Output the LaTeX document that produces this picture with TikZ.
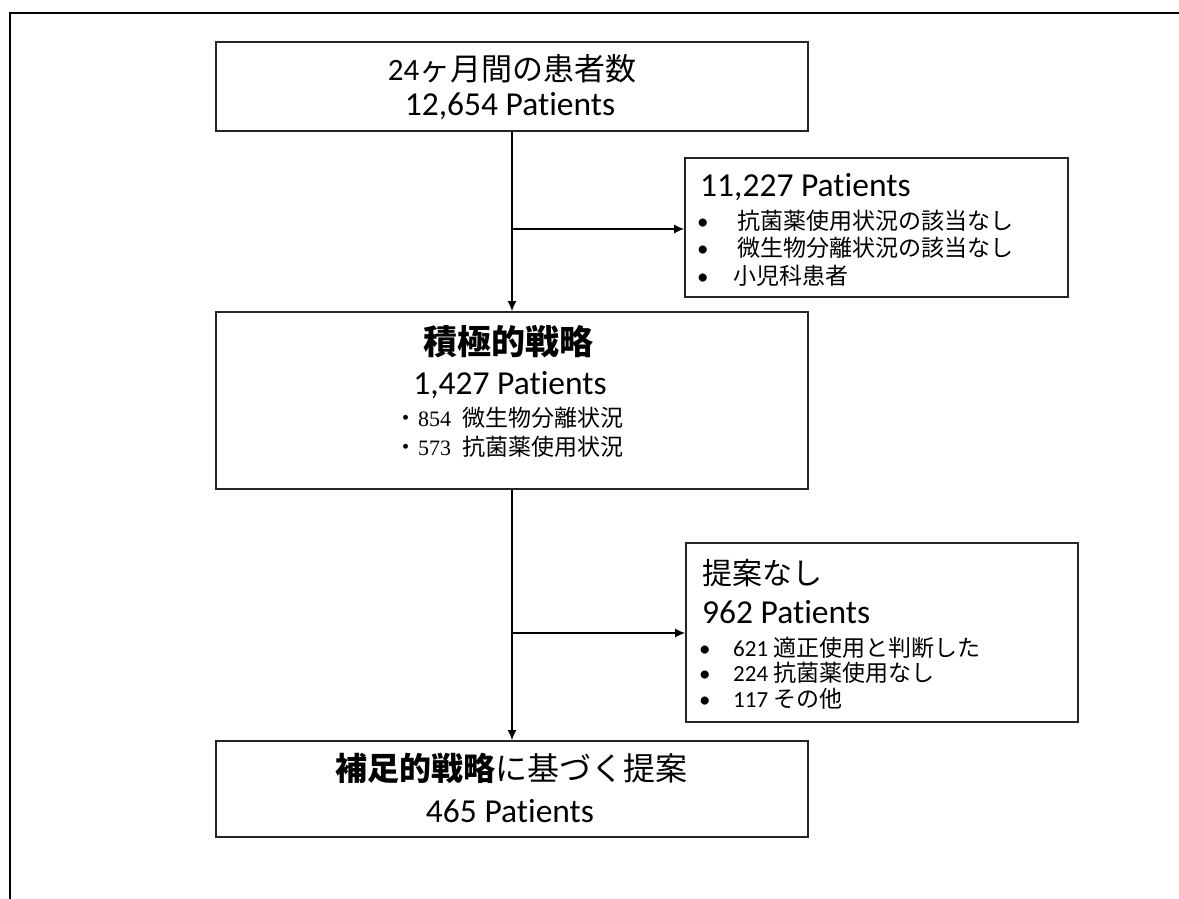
\documentclass[tikz,border=0pt]{standalone}
\usepackage{fontspec}
\setmainfont{Carlito}[Ligatures=CommonOff]
\newfontfamily\jp{Noto Sans CJK JP}
\newfontfamily\tms{Liberation Serif}
\usetikzlibrary{arrows.meta}
\newcommand{\fs}[1]{\fontsize{#1}{#1}\selectfont}
\begin{document}
\begin{tikzpicture}[x=1pt,y=-1pt,
  flowbox/.style={draw=black!85, line width=1.6pt, inner sep=0pt},
  ctxt/.style={inner sep=0pt, anchor=base},
  ltxt/.style={inner sep=0pt, anchor=base west},
  pat/.style={font=\fs{33.5}},
  item/.style={font=\fs{23}},
  flow/.style={line width=1.5pt, -{Latex[length=10pt,width=9pt]}}]
\useasboundingbox (0,0) rectangle (1179,899);

% outer frame (top and left edges only)
\draw[line width=2.2pt] (1179,13) -- (10,13) -- (10,899);

% boxes
\node[flowbox, minimum width=592pt, minimum height=89pt]  (total) at (512,86.5) {};
\node[flowbox, minimum width=383pt, minimum height=139pt] (excl)  at (876.5,227.5) {};
\node[flowbox, minimum width=592pt, minimum height=177pt] (strat) at (512,400.5) {};
\node[flowbox, minimum width=392pt, minimum height=179pt] (nosug) at (882,632.5) {};
\node[flowbox, minimum width=592pt, minimum height=96pt]  (sug)   at (512,789) {};

% box texts
\node[ctxt, font=\fs{31}] (totalA) at (512,81) {24{\jp ヶ月間の患者数}};
\node[ctxt, pat] (totalB) at (510,115) {12,654 Patients};

\node[ltxt, pat] (exclA) at (700,196) {11,227 Patients};
\node[ltxt, item] (exclB) at (697,229) {\makebox[40pt][l]{•}{\jp 抗菌薬使用状況の該当なし}};
\node[ltxt, item] (exclC) at (697,256) {\makebox[40pt][l]{•}{\jp 微生物分離状況の該当なし}};
\node[ltxt, item] (exclD) at (697,284) {\makebox[36pt][l]{•}{\jp 小児科患者}};

\node[ctxt, font=\fs{34}] (stratA) at (508,354) {\jp\bfseries 積極的戦略};
\node[ctxt, pat] (stratB) at (510,394) {1,427 Patients};
\node[ltxt, item] (stratC) at (394,426) {\makebox[24pt][l]{\jp ・}\makebox[44pt][l]{\tms\fs{22}854}{\jp 微生物分離状況}};
\node[ltxt, item] (stratD) at (394,455) {\makebox[24pt][l]{\jp ・}\makebox[44pt][l]{\tms\fs{22}573}{\jp 抗菌薬使用状況}};

\node[ltxt, font=\fs{30}] (nosugA) at (702,584) {\jp 提案なし};
\node[ltxt, pat] (nosugB) at (702,623) {962 Patients};
\node[ltxt, item] (nosugC) at (699,656) {\makebox[34pt][l]{•}\makebox[40pt][l]{621}{\jp 適正使用と判断した}};
\node[ltxt, item] (nosugD) at (699,681) {\makebox[34pt][l]{•}\makebox[40pt][l]{224}{\jp 抗菌薬使用なし}};
\node[ltxt, item] (nosugE) at (699,707) {\makebox[34pt][l]{•}\makebox[40pt][l]{117}{\jp その他}};

\node[ctxt, font=\fs{32}] (sugA) at (511,780) {{\jp\bfseries 補足的戦略}{\jp に基づく提案}};
\node[ctxt, pat] (sugB) at (510,822) {465 Patients};

% connectors
\draw[flow] (total.south) -- (strat.north);
\draw[flow] (strat.south) -- (sug.north);
\coordinate (j1) at (512,229);
\coordinate (j2) at (512,633);
\draw[flow] (j1) -- (excl.west |- j1);
\draw[flow] (j2) -- (nosug.west |- j2);
\end{tikzpicture}
\end{document}
